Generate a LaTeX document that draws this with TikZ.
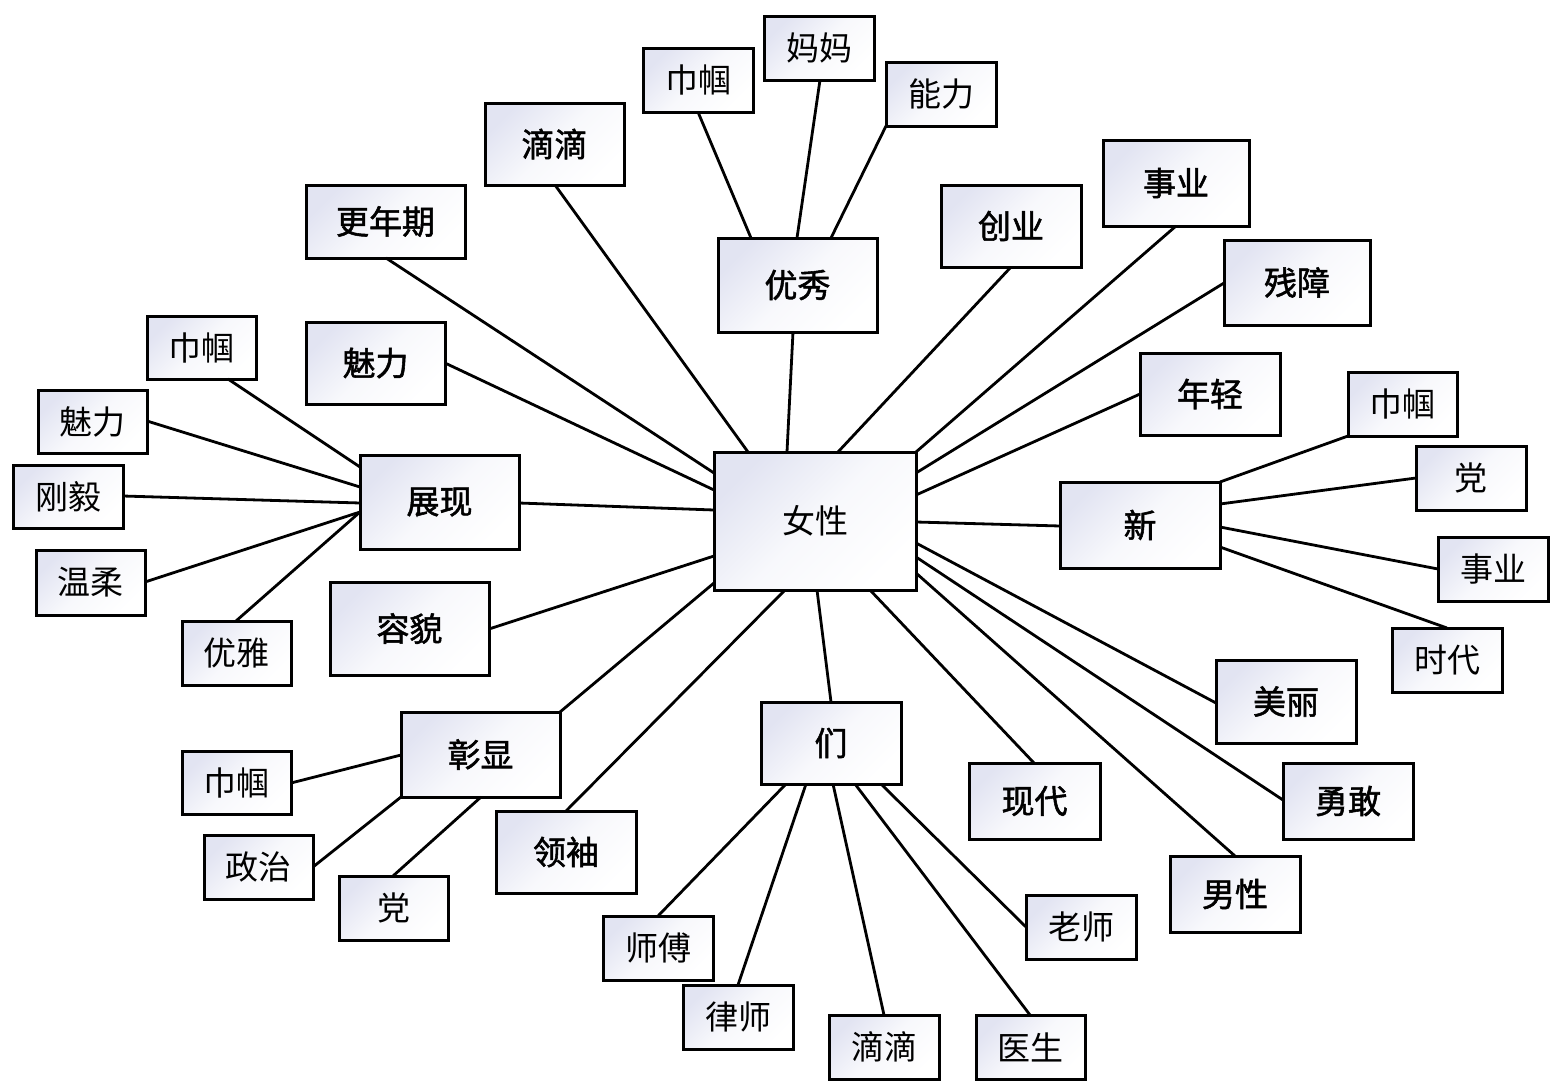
\documentclass[tikz,border=0pt]{standalone}
\usepackage{fontspec}
\setmainfont{Noto Sans CJK SC}
\newfontfamily\midfont{Noto Sans CJK SC}[FakeBold=1.6]
\definecolor{boxc}{RGB}{226,228,242}
\tikzset{
  box/.style={draw=black, line width=1.5pt, top color=boxc, bottom color=white,
    middle color=boxc!25!white, shading angle=45, inner sep=0pt,
    font=\fontsize{16.5}{16.5}\selectfont},
  hb/.style={font=\fontsize{16.5}{16.5}\selectfont\midfont},
  lnk/.style={draw=black, line width=1.4pt}
}
\newcommand\bx[7][]{\node[box,#1,minimum width=#5pt,minimum height=#6pt] (#2) at (#3,#4) {#7};}
\newcommand\lk[4]{\draw[lnk] ([shift={#2}]#1.center) -- ([shift={#4}]#3.center);}
\begin{document}
\begin{tikzpicture}[x=0.5pt,y=-0.5pt]
\useasboundingbox[fill=white] (0,0) rectangle (1560,1092);
% hub
\bx{nv}{815}{521}{101}{69}{女性}
% first level
\bx[hb]{yx}{797.5}{285}{79.5}{47}{优秀}
\bx[hb]{ddt}{554.5}{144}{69.5}{41}{滴滴}
\bx[hb]{gnq}{385.5}{221.5}{79.5}{36.5}{更年期}
\bx[hb]{mlA}{375.5}{363}{69.5}{41}{魅力}
\bx[hb]{zx}{439.5}{502}{79.5}{47}{展现}
\bx[hb]{rm}{409.5}{628.5}{79.5}{46.5}{容貌}
\bx[hb]{zxx}{480.5}{754.5}{79.5}{42.5}{彰显}
\bx[hb]{lx}{566}{852}{70}{41}{领袖}
\bx[hb]{mn}{831}{743}{70}{41}{们}
\bx[hb]{xd}{1034.5}{801}{65.5}{38}{现代}
\bx[hb]{nx}{1235}{894}{65}{38}{男性}
\bx[hb]{yg}{1348}{801}{65}{38}{勇敢}
\bx[hb]{ml}{1286}{701.5}{70}{41.5}{美丽}
\bx[hb]{xin}{1140}{525}{80}{43}{新}
\bx[hb]{nq}{1210}{394}{70}{41}{年轻}
\bx[hb]{cz}{1297}{282.5}{73}{42.5}{残障}
\bx[hb]{syt}{1176}{183}{73}{43}{事业}
\bx[hb]{cy}{1011}{226}{70}{41}{创业}
% leaves
\bx{jgt}{698}{80}{55}{32}{巾帼}
\bx{mm}{819}{48}{55}{32}{妈妈}
\bx{nl}{941}{94}{55}{32}{能力}
\bx{jgl}{201.5}{347.5}{54.5}{31.5}{巾帼}
\bx{mll}{92.5}{421.5}{54.5}{31.5}{魅力}
\bx{gy}{68}{496.5}{55}{31.5}{刚毅}
\bx{wr}{90.5}{582.5}{54.5}{32.5}{温柔}
\bx{yy}{236.5}{653}{54.5}{32}{优雅}
\bx{jgb}{236.5}{782.5}{54.5}{31.5}{巾帼}
\bx{zz}{258.5}{867}{54.5}{32}{政治}
\bx{dbl}{393.5}{908}{54.5}{32}{党}
\bx{sf}{658}{948}{55}{32}{师傅}
\bx{ls}{738}{1017}{55}{32}{律师}
\bx{ddb}{884}{1047}{55}{32}{滴滴}
\bx{ys}{1030.5}{1047}{54.5}{32}{医生}
\bx{lsh}{1081}{927}{55}{32}{老师}
\bx{jgr}{1402.5}{404}{54.5}{32}{巾帼}
\bx{dr}{1471}{478}{55}{32}{党}
\bx{syr}{1493}{569}{55}{32}{事业}
\bx{sd}{1447}{660}{55}{32}{时代}
% hub links
\lk{nv}{(-28,-69)}{yx}{(-4.5,47)}
\lk{nv}{(-67,-69)}{ddt}{(0.5,41)}
\lk{nv}{(-101,-48)}{gnq}{(0.5,36.5)}
\lk{nv}{(-101,-31)}{mlA}{(69.5,0)}
\lk{nv}{(-101,-11)}{zx}{(79.5,1)}
\lk{nv}{(-101,35)}{rm}{(79.5,0.5)}
\lk{nv}{(-101,62)}{zxx}{(79.5,-42.5)}
\lk{nv}{(-30,69)}{lx}{(0,-41)}
\lk{nv}{(2,69)}{mn}{(0,-41)}
\lk{nv}{(55,69)}{xd}{(-0.5,-38)}
\lk{nv}{(101,52)}{nx}{(0,-38)}
\lk{nv}{(101,36)}{yg}{(-65,-1)}
\lk{nv}{(101,22)}{ml}{(-70,1.5)}
\lk{nv}{(101,1)}{xin}{(-80,1)}
\lk{nv}{(101,-26)}{nq}{(-70,0)}
\lk{nv}{(101,-48)}{cz}{(-73,0.5)}
\lk{nv}{(101,-69)}{syt}{(0,43)}
\lk{nv}{(23,-69)}{cy}{(0,41)}
% youxiu
\lk{yx}{(-46.5,-47)}{jgt}{(0,32)}
\lk{yx}{(-0.5,-47)}{mm}{(1,32)}
\lk{yx}{(33.5,-47)}{nl}{(-55,32)}
% zhanxian
\lk{zx}{(-79.5,-35)}{jgl}{(26.5,31.5)}
\lk{zx}{(-79.5,-15)}{mll}{(54.5,-0.5)}
\lk{zx}{(-79.5,1)}{gy}{(55,-0.5)}
\lk{zx}{(-79.5,10)}{wr}{(54.5,-0.5)}
\lk{zx}{(-79.5,10)}{yy}{(-0.5,-32)}
% zhangxian
\lk{zxx}{(-79.5,0.5)}{jgb}{(54.5,0.5)}
\lk{zxx}{(-79.5,42.5)}{zz}{(54.5,0)}
\lk{zxx}{(0.5,42.5)}{dbl}{(-0.5,-32)}
% men
\lk{mn}{(-45,41)}{sf}{(0,-32)}
\lk{mn}{(-25,41)}{ls}{(0,-32)}
\lk{mn}{(2,41)}{ddb}{(0,-32)}
\lk{mn}{(24,41)}{ys}{(-0.5,-32)}
\lk{mn}{(50,41)}{lsh}{(-55,0)}
% xin
\lk{xin}{(80,-43)}{jgr}{(-54.5,32)}
\lk{xin}{(80,-21)}{dr}{(-55,0)}
\lk{xin}{(80,2)}{syr}{(-55,0)}
\lk{xin}{(80,22)}{sd}{(0,-32)}
\end{tikzpicture}
\end{document}
